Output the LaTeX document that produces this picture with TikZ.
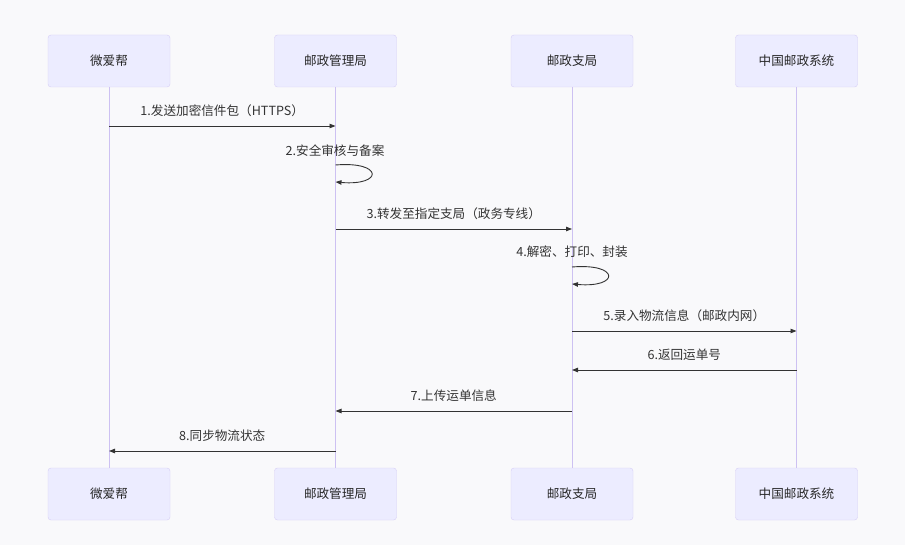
\documentclass[tikz,border=0pt]{standalone}
\usepackage{fontspec}
\setmainfont{Noto Sans CJK SC}
\usepackage{tikz}
\usetikzlibrary{arrows.meta,positioning}
\definecolor{bgcol}{RGB}{249,249,251}
\definecolor{actfill}{RGB}{236,236,255}
\definecolor{actline}{RGB}{214,206,246}
\definecolor{lifecol}{RGB}{205,193,242}
\definecolor{msgcol}{RGB}{51,51,51}
\newcommand{\actw}{122pt}
\newcommand{\acth}{52pt}
\newcommand{\loopw}{48}

\begin{document}
\begin{tikzpicture}[x=1pt,y=-1pt,
	actor/.style={draw=actline, fill=actfill, rounded corners=3pt, minimum width=\actw, minimum height=\acth, inner sep=0pt, font=\fontsize{12.6}{14}\selectfont, text=black!85},
	lifeline/.style={draw=lifecol, line width=1pt},
	msg/.style={draw=msgcol, line width=0.9pt, -{Triangle[length=6pt,width=4.5pt]}},
	lbl/.style={font=\fontsize{12.6}{14}\selectfont, text=msgcol, inner sep=0pt}]
	
	\fill[bgcol] (0,0) rectangle (905,545);
	\useasboundingbox (0,0) rectangle (905,545);
	%\draw[help lines] (0,0) grid (905,545);
	
	% actors, top and bottom
	\node[actor] (wab) at (109,61) {微爱帮};
	\node[actor] (gl) at (335.5,61) {邮政管理局};
	\node[actor] (zj) at (572,61) {邮政支局};
	\node[actor] (zg) at (796.5,61) {中国邮政系统};
	\node[actor] (wabB) at (109,494) {微爱帮};
	\node[actor] (glB) at (335.5,494) {邮政管理局};
	\node[actor] (zjB) at (572,494) {邮政支局};
	\node[actor] (zgB) at (796.5,494) {中国邮政系统};
	
	\draw[lifeline] (wab) -- (wabB);
	\draw[lifeline] (gl) -- (glB);
	\draw[lifeline] (zj) -- (zjB);
	\draw[lifeline] (zg) -- (zgB);
	
	% message points on the lifelines
	\coordinate (m1a) at (wab |- 0,126);
	\coordinate (m1b) at (gl |- 0,126);
	\coordinate (m2a) at (gl |- 0,165);
	\coordinate (m2b) at (gl |- 0,182);
	\coordinate (m3a) at (gl |- 0,229);
	\coordinate (m3b) at (zj |- 0,229);
	\coordinate (m4a) at (zj |- 0,267);
	\coordinate (m4b) at (zj |- 0,284);
	\coordinate (m5a) at (zj |- 0,331);
	\coordinate (m5b) at (zg |- 0,331);
	\coordinate (m6a) at (zg |- 0,370);
	\coordinate (m6b) at (zj |- 0,370);
	\coordinate (m7a) at (zj |- 0,411);
	\coordinate (m7b) at (gl |- 0,411);
	\coordinate (m8a) at (gl |- 0,451);
	\coordinate (m8b) at (wab |- 0,451);
	
	% messages
	\draw[msg] (m1a) -- node[lbl, above=9pt] {1.发送加密信件包（HTTPS）} (m1b);
	\node[lbl] (l2) at (335,151) {2.安全审核与备案};
	\draw[msg] (m2a) .. controls ++(\loopw,-4) and ++(\loopw,4) .. (m2b);
	\draw[msg] (m3a) -- node[lbl, above=9pt] {3.转发至指定支局（政务专线）} (m3b);
	\node[lbl] (l4) at (572,252) {4.解密、打印、封装};
	\draw[msg] (m4a) .. controls ++(\loopw,-4) and ++(\loopw,4) .. (m4b);
	\draw[msg] (m5a) -- node[lbl, above=9pt] {5.录入物流信息（邮政内网）} (m5b);
	\draw[msg] (m6a) -- node[lbl, above=9pt] {6.返回运单号} (m6b);
	\draw[msg] (m7a) -- node[lbl, above=9pt] {7.上传运单信息} (m7b);
	\draw[msg] (m8a) -- node[lbl, above=9pt] {8.同步物流状态} (m8b);
\end{tikzpicture}
\end{document}
